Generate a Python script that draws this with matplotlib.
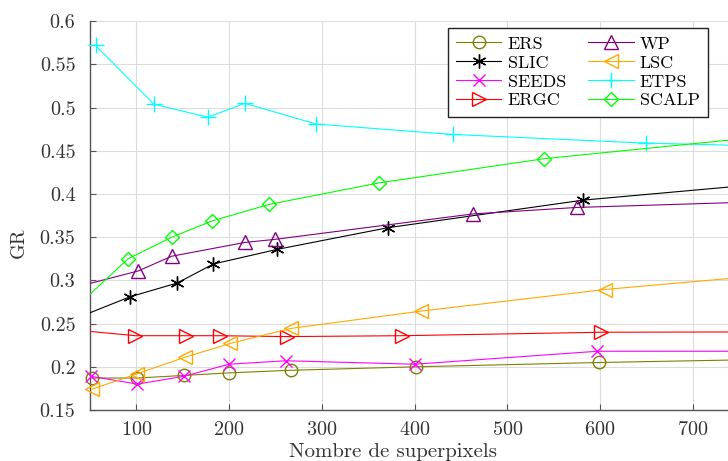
import matplotlib
matplotlib.use("Agg")
import matplotlib.pyplot as plt
import numpy as np

plt.rcParams['font.family'] = ['cmr10', 'DejaVu Serif']
plt.rcParams['mathtext.fontset'] = 'cm'
plt.rcParams['axes.formatter.use_mathtext'] = True
plt.rcParams['axes.unicode_minus'] = False

# ---- data ----
ers_x = [52, 101, 151, 200, 267, 401, 599, 800]
ers_y = [0.187, 0.187, 0.190, 0.193, 0.196, 0.200, 0.205, 0.209]

slic_x = [30, 93, 144, 183, 252, 371, 582, 800]
slic_y = [0.254, 0.281, 0.297, 0.319, 0.336, 0.361, 0.393, 0.414]

seeds_x = [51, 101, 151, 200, 261, 400, 597, 800]
seeds_y = [0.189, 0.180, 0.189, 0.203, 0.207, 0.203, 0.218, 0.218]

ergc_x = [30, 99, 153, 190, 262, 386, 601, 800]
ergc_y = [0.243, 0.236, 0.236, 0.236, 0.235, 0.236, 0.240, 0.2405]

wp_x = [30, 102, 138, 217, 249, 463, 575, 800]
wp_y = [0.291, 0.311, 0.328, 0.344, 0.3475, 0.377, 0.3845, 0.392]

lsc_x = [52, 101, 152, 201, 267, 407, 605, 800]
lsc_y = [0.174, 0.192, 0.211, 0.227, 0.2445, 0.2645, 0.2895, 0.308]

etps_x = [56, 119, 177, 217, 294, 441, 649, 800]
etps_y = [0.572, 0.504, 0.489, 0.505, 0.481, 0.469, 0.459, 0.455]

scalp_x = [30, 91, 138, 182, 243, 362, 540, 800]
scalp_y = [0.264, 0.325, 0.350, 0.369, 0.388, 0.413, 0.441, 0.469]

series = [
    ("ERS", ers_x, ers_y, '#808000', 'o'),
    ("SLIC", slic_x, slic_y, 'black', (6, 2, 0)),
    ("SEEDS", seeds_x, seeds_y, '#ff00ff', 'x'),
    ("ERGC", ergc_x, ergc_y, '#ff0000', '>'),
    ("WP", wp_x, wp_y, '#800080', '^'),
    ("LSC", lsc_x, lsc_y, '#ffaa00', '<'),
    ("ETPS", etps_x, etps_y, '#00ffff', '+'),
    ("SCALP", scalp_x, scalp_y, '#00ff00', 'D'),
]

xticks = [100, 200, 300, 400, 500, 600, 700]
yticks = [0.15, 0.2, 0.25, 0.3, 0.35, 0.4, 0.45, 0.5, 0.55, 0.6]
ytick_labels = ['0.15', '0.2', '0.25', '0.3', '0.35', '0.4', '0.45', '0.5', '0.55', '0.6']

W, H = 728, 461
fig = plt.figure(figsize=(W / 100, H / 100), dpi=100)
left_px, right_px = 90, 785.6
top_px, bot_px = 21.3, 410
ax = fig.add_axes([left_px / W, 1 - bot_px / H, (right_px - left_px) / W, (bot_px - top_px) / H])

sizes = {'o': 9, 'x': 8, '>': 10, '^': 10, '<': 10, '+': 11, 'D': 7.5}
for name, xs, ys, col, mk in series:
    clip = min(xs) < 50
    ms = sizes.get(mk, 10) if isinstance(mk, str) else 10
    ax.plot(xs, ys, color=col, lw=0.8, marker=mk, markersize=ms,
            markerfacecolor='none', markeredgecolor=col, markeredgewidth=1.0,
            label=name, clip_on=clip, zorder=3)

ax.set_xlim(50, 800)
ax.set_ylim(0.15, 0.6)
ax.set_xticks(xticks)
ax.set_yticks(yticks)
ax.set_yticklabels(ytick_labels)
ax.grid(True, color='#dcdcdc', lw=0.8, zorder=0)
ax.set_axisbelow(True)
for s in ['top', 'right']:
    ax.spines[s].set_visible(False)
for s in ['left', 'bottom']:
    ax.spines[s].set_color('#555555')
    ax.spines[s].set_linewidth(1.0)
ax.tick_params(direction='in', length=4, width=0.8, color='#555555',
               labelsize=14.5, labelcolor='#333333')
ax.tick_params(axis='y', pad=10.5)
ax.tick_params(axis='x', pad=8.0)

ax.set_xlabel('Nombre de superpixels', fontsize=15, color='#333333')
ax.xaxis.set_label_coords((393 - left_px) / (right_px - left_px), -(443 - bot_px) / (bot_px - top_px))
ax.xaxis.label.set_va('top')
ax.set_ylabel('GR', fontsize=14.5, color='#333333')
ax.yaxis.set_label_coords(-(left_px - 19) / (right_px - left_px), (bot_px - 243) / (bot_px - top_px))
ax.yaxis.label.set_va('center')

leg = ax.legend(ncol=2, loc='upper left', bbox_to_anchor=(448 / W, 1 - 28 / H),
                bbox_transform=fig.transFigure, fontsize=13, frameon=True,
                fancybox=False, edgecolor='#222222', framealpha=1,
                handlelength=2.5, columnspacing=1.25, labelspacing=0.18,
                handletextpad=0.35, borderpad=0.45, borderaxespad=0)
leg.get_frame().set_linewidth(1.0)

fig.savefig('out.png', dpi=100)
